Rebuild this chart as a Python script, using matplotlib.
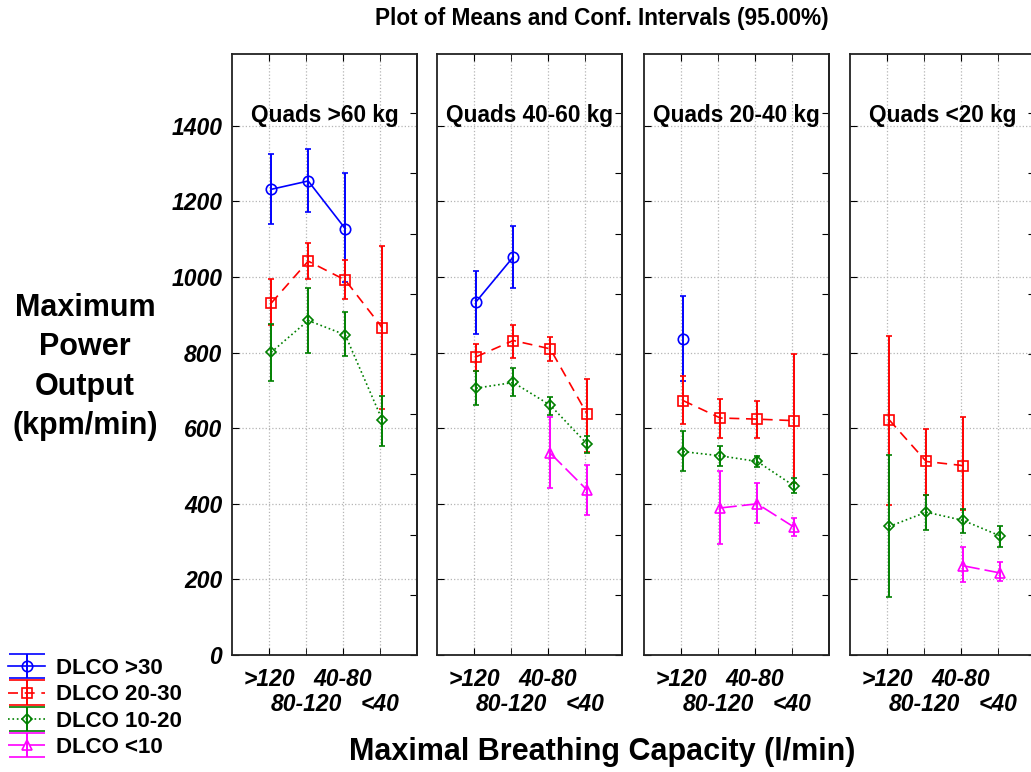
import numpy as np
import matplotlib.pyplot as plt
from matplotlib.container import ErrorbarContainer
from matplotlib.legend_handler import HandlerErrorbar

nan = np.nan

categories = ['>120', '80-120', '40-80', '<40']
panel_titles = ['Quads >60 kg', 'Quads 40-60 kg', 'Quads 20-40 kg', 'Quads <20 kg']
series_names = ['DLCO >30', 'DLCO 20-30', 'DLCO 10-20', 'DLCO <10']

# means / lower / upper conf. limits, one row per panel, one column per category
mean_dlco30 = [[1232, 1254, 1128, nan], [935, 1053, nan, nan], [837, nan, nan, nan], [nan, nan, nan, nan]]
low_dlco30 = [[1139, 1172, 986, nan], [849, 970, nan, nan], [726, nan, nan, nan], [nan, nan, nan, nan]]
high_dlco30 = [[1326, 1338, 1274, nan], [1016, 1136, nan, nan], [951, nan, nan, nan], [nan, nan, nan, nan]]

mean_dlco20 = [[931, 1042, 992, 866], [789, 832, 810, 637], [673, 627, 624, 620], [622, 512, 501, nan]]
low_dlco20 = [[873, 996, 943, 650], [752, 787, 778, 537], [611, 575, 575, 455], [398, 424, 384, nan]]
high_dlco20 = [[996, 1090, 1044, 1083], [823, 874, 840, 730], [737, 677, 673, 797], [843, 598, 629, nan]]

mean_dlco10 = [[801, 885, 847, 622], [706, 721, 661, 558], [538, 527, 512, 447], [340, 378, 356, 315]]
low_dlco10 = [[725, 798, 792, 554], [662, 685, 635, 535], [486, 499, 497, 428], [154, 331, 323, 285]]
high_dlco10 = [[876, 971, 907, 686], [752, 759, 682, 579], [592, 552, 527, 467], [530, 424, 386, 342]]

mean_dlco0 = [[nan, nan, nan, nan], [nan, nan, 534, 436], [nan, 389, 400, 338], [nan, nan, 236, 217]]
low_dlco0 = [[nan, nan, nan, nan], [nan, nan, 441, 371], [nan, 293, 348, 315], [nan, nan, 194, 197]]
high_dlco0 = [[nan, nan, nan, nan], [nan, nan, 629, 503], [nan, 488, 454, 362], [nan, nan, 285, 245]]

yticks = [0, 200, 400, 600, 800, 1000, 1200, 1400]

plt.rcParams['font.family'] = ['Liberation Sans', 'DejaVu Sans']
plt.rcParams['font.weight'] = 'bold'

styles = [
    dict(color='#0000ff', marker='o', ms=7.5, ls='-'),
    dict(color='#ff0000', marker='s', ms=7, ls=(0, (6, 4))),
    dict(color='#008000', marker='D', ms=5, ls=':'),
    dict(color='#ff00ff', marker='^', ms=7.5, ls=(0, (10, 3))),
]
data = [
    (mean_dlco30, low_dlco30, high_dlco30),
    (mean_dlco20, low_dlco20, high_dlco20),
    (mean_dlco10, low_dlco10, high_dlco10),
    (mean_dlco0, low_dlco0, high_dlco0),
]

W, H = 1031, 772
fig = plt.figure(figsize=(W / 100, H / 100), dpi=100)

lefts = [232, 437, 644, 850]
pw = 185
top, bottom = 54, 655
x = np.arange(1, 5)
tick_font = dict(fontsize=16.5, fontstyle='italic', fontweight='bold')

for p, left in enumerate(lefts):
    ax = fig.add_axes([left / W, 1 - bottom / H, pw / W, (bottom - top) / H])
    for (m, lo, hi), st in zip(data, styles):
        mm = np.array(m[p], dtype=float)
        err = [mm - np.array(lo[p]), np.array(hi[p]) - mm]
        xs = x + 0.06
        ax.errorbar(xs, mm, yerr=err, fmt='none', ecolor=st['color'],
                    elinewidth=1.4, capsize=2.2, capthick=1.2, zorder=3)
        ax.plot(xs, mm, color=st['color'], ls=st['ls'], lw=1.2,
                marker=st['marker'], ms=st['ms'], mfc='none', mew=1.2, zorder=4)
    ax.set_xlim(0, 5)
    ax.set_ylim(0, 1590)
    # two staggered rows of category labels
    ax.set_xticks(x[0::2])
    ax.set_xticklabels(categories[0::2], **tick_font)
    ax.set_xticks(x[1::2], minor=True)
    ax.set_xticklabels(categories[1::2], minor=True, **tick_font)
    ax.set_yticks(yticks)
    if p == 0:
        ax.set_yticklabels([str(v) for v in yticks], **tick_font)
    else:
        ax.set_yticklabels([])
    ax.tick_params(axis='x', which='both', direction='in', length=5, top=True)
    ax.tick_params(axis='x', which='major', pad=9.5)
    ax.tick_params(axis='x', which='minor', pad=27.5)
    ax.tick_params(axis='y', direction='in', length=5, right=False, pad=7)
    ax.grid(True, axis='y', ls=':', color='#b5b5b5', lw=0.9)
    ax.grid(True, axis='x', which='both', ls=':', color='#b5b5b5', lw=0.9)
    for s in ax.spines.values():
        s.set_linewidth(1.3)
        s.set_color('#222222')
    sec = ax.secondary_yaxis('right', functions=(lambda v: v / 159.3, lambda v: v * 159.3))
    sec.set_yticks(range(10))
    sec.set_yticklabels([])
    sec.tick_params(direction='in', length=5)
    sec.spines['right'].set_linewidth(1.3)
    sec.spines['right'].set_color('#222222')
    ax.text(0.5, 0.897, panel_titles[p], transform=ax.transAxes, ha='center',
            va='center', fontsize=16.3, fontweight='bold', zorder=6)

fig.text(602 / W, 1 - 19 / H, 'Plot of Means and Conf. Intervals (95.00%)',
         ha='center', va='center', fontsize=16.3, fontweight='bold')
fig.text(602 / W, 1 - 752 / H, 'Maximal Breathing Capacity (l/min)',
         ha='center', va='center', fontsize=22, fontweight='bold')
fig.text(85 / W, 1 - 367 / H, 'Maximum\nPower\nOutput\n(kpm/min)',
         ha='center', va='center', ma='center', fontsize=22, fontweight='bold',
         linespacing=1.4)

# legend handles
dummy = fig.add_axes([0, 0, 0.01, 0.01])
dummy.set_axis_off()
handles = []
for st in styles:
    h = dummy.errorbar([nan], [nan], yerr=[1], color=st['color'], ls=st['ls'], lw=1.2,
                       marker=st['marker'], ms=st['ms'], mfc='none', mew=1.2,
                       elinewidth=1.4, capsize=13, capthick=1.2)
    handles.append(h)
fig.legend(handles, series_names, loc='upper left', bbox_to_anchor=(8 / W, 1 - 658 / H),
           frameon=False, fontsize=16, handlelength=1.68, handletextpad=0.5,
           borderpad=0, borderaxespad=0, labelspacing=0.24,
           handler_map={ErrorbarContainer: HandlerErrorbar(xerr_size=0.5, yerr_size=0.55)})

fig.savefig('out.png', dpi=100)
